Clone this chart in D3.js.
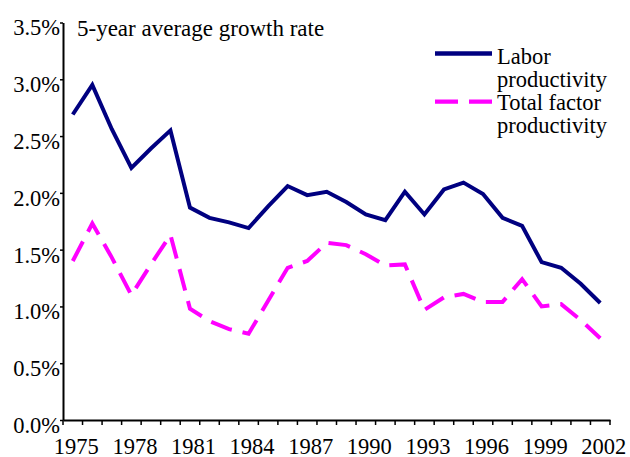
<!DOCTYPE html>
<html>
<head>
<meta charset="utf-8">
<script src="https://cdn.jsdelivr.net/npm/d3@7"></script>
<style>
  body { margin: 0; background: #fff; }
</style>
</head>
<body>
<div id="chart"></div>
<script>
// data (percent)
const years = d3.range(1975, 2003);
const labelYears = [1975, 1978, 1981, 1984, 1987, 1990, 1993, 1996, 1999, 2002];
const labor = [2.69, 2.95, 2.56, 2.22, 2.39, 2.55, 1.87, 1.78, 1.74, 1.69, 1.88, 2.06, 1.98, 2.01,
  1.92, 1.81, 1.76, 2.01, 1.81, 2.03, 2.09, 1.99, 1.78, 1.71, 1.39, 1.34, 1.20, 1.03];
const tfp = [1.40, 1.73, 1.43, 1.10, 1.37, 1.63, 0.98, 0.87, 0.80, 0.76, 1.05, 1.34, 1.40, 1.56,
  1.54, 1.46, 1.36, 1.37, 0.97, 1.08, 1.11, 1.04, 1.04, 1.24, 1.00, 1.02, 0.88, 0.72];
const yTicks = [0, 0.5, 1, 1.5, 2, 2.5, 3, 3.5];
const seriesNames = [["Labor", "productivity"], ["Total factor", "productivity"]];
const title = "5-year average growth rate";

const FONT = "'Liberation Serif', Tinos, 'Times New Roman'";
const width = 630, height = 457;
const plot = { left: 63, right: 610, top: 22.5, bottom: 420 };

const svg = d3.select("#chart").append("svg")
  .attr("width", width)
  .attr("height", height);

const x = d3.scaleBand().domain(years).range([plot.left, plot.right]).padding(0);
const y = d3.scaleLinear().domain([0, 3.5]).range([plot.bottom, plot.top]);

// y axis
const yAxis = svg.append("g")
  .attr("transform", `translate(${plot.left},0)`)
  .call(d3.axisLeft(y).tickValues(yTicks).tickSize(3).tickSizeOuter(0)
    .tickFormat(d => d3.format(".1f")(d) + "%"));
yAxis.attr("font-family", FONT).attr("font-size", 22.5);
yAxis.select(".domain").attr("stroke", "#000").attr("stroke-width", 2);
yAxis.selectAll(".tick line").attr("stroke", "#000").attr("stroke-width", 1.5);
yAxis.selectAll(".tick text")
  .attr("x", -3).attr("dy", "0.55em")
  .attr("fill", "#000")
  .style("font-family", FONT).style("font-size", "22.5px");

// x axis: ticks between categories, labels every 3 years
const xAxis = svg.append("g")
  .attr("transform", `translate(0,${plot.bottom})`)
  .call(d3.axisBottom(x).tickValues(labelYears).tickSize(0).tickSizeOuter(0));
xAxis.attr("font-family", FONT).attr("font-size", 22.5);
xAxis.select(".domain").attr("stroke", "#000").attr("stroke-width", 2);
xAxis.selectAll(".tick text")
  .attr("dx", 3.5).attr("y", 33.5).attr("dy", 0)
  .attr("fill", "#000")
  .style("font-family", FONT).style("font-size", "22.5px");
xAxis.selectAll("line.cat")
  .data(years.map(d => x(d)).concat([x.range()[1]]))
  .enter().append("line")
  .attr("class", "cat")
  .attr("x1", d => d).attr("x2", d => d)
  .attr("y1", 0).attr("y2", 5)
  .attr("stroke", "#000").attr("stroke-width", 1.5);

// title
svg.append("text")
  .attr("x", 77).attr("y", 36)
  .style("font-family", FONT).style("font-size", "23px")
  .text(title);

// lines
const line = d3.line()
  .x((d, i) => x(years[i]) + x.bandwidth() / 2)
  .y(d => y(d));

svg.append("path")
  .datum(tfp)
  .attr("fill", "none")
  .attr("stroke", "#ff00ff")
  .attr("stroke-width", 4)
  .attr("stroke-dasharray", "22,11")
  .attr("d", line);

svg.append("path")
  .datum(labor)
  .attr("fill", "none")
  .attr("stroke", "#000080")
  .attr("stroke-width", 4)
  .attr("d", line);

// legend
const legend = svg.append("g");
legend.append("line")
  .attr("x1", 435).attr("x2", 492).attr("y1", 53.5).attr("y2", 53.5)
  .attr("stroke", "#000080").attr("stroke-width", 4.3);
legend.append("line")
  .attr("x1", 435).attr("x2", 492).attr("y1", 101.7).attr("y2", 101.7)
  .attr("stroke", "#ff00ff").attr("stroke-width", 4.3)
  .attr("stroke-dasharray", "23,11");

const legendBaselines = [[64, 87], [110, 133]];
seriesNames.forEach((lines, i) => {
  lines.forEach((t, j) => {
    legend.append("text")
      .attr("x", 497).attr("y", legendBaselines[i][j])
      .style("font-family", FONT).style("font-size", "22.5px")
      .text(t);
  });
});
</script>
</body>
</html>
